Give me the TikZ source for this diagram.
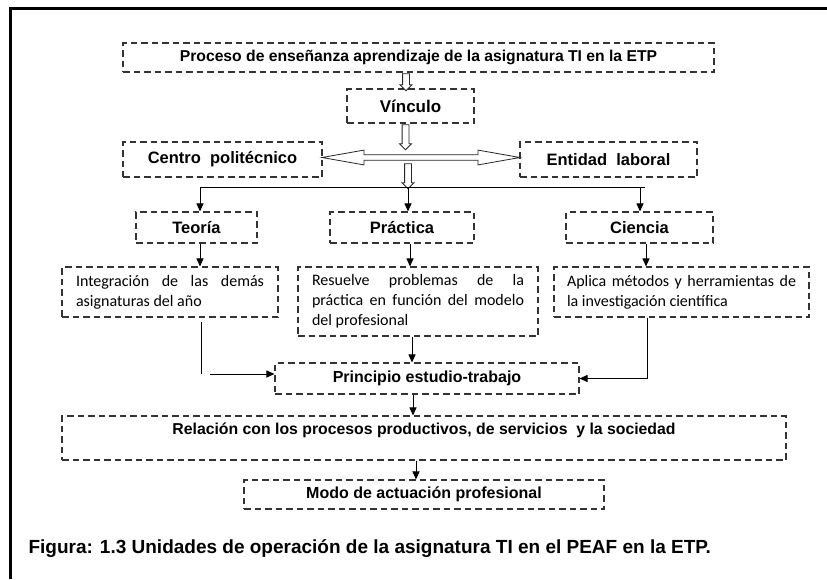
\documentclass[tikz,border=0pt]{standalone}
\usepackage{fontspec}
\setmainfont{Liberation Sans}
\newfontfamily\calibri{Carlito}
\usetikzlibrary{shapes.arrows,arrows.meta}

\begin{document}
\begin{tikzpicture}[x=1pt,y=-1pt,
caja/.style={draw=black!80, line width=1.1pt, dash pattern=on 6.5pt off 4pt,
  inner sep=0pt, font=\bfseries\fontsize{16}{19}\selectfont},
texto/.style={caja, font=\calibri\fontsize{16}{20}\selectfont, align=justify},
hueco/.style={single arrow, draw=black!85, fill=white, line width=0.8pt,
  inner sep=3pt, single arrow head extend=2.5pt, minimum height=#1, rotate=-90},
flecha/.style={-{Triangle[length=8pt,width=7pt]}, line width=1pt}
]
\useasboundingbox (0,0) rectangle (827,579);
% marco
\draw[line width=3pt] (10.5,579) -- (10.5,8) -- (827,8);

\node[caja, minimum width=591pt, minimum height=29pt, font=\bfseries\fontsize{15.7}{19}\selectfont] (proc) at (418.5,57.5)
  {Proceso de enseñanza aprendizaje de la asignatura TI en la ETP};
\node[caja, minimum width=127pt, minimum height=34pt, font=\bfseries\fontsize{17}{19}\selectfont] (vin) at (410.5,106) {Vínculo};
\node[caja, minimum width=199pt, minimum height=35pt, font=\bfseries\fontsize{16.5}{19}\selectfont] (cen) at (222.5,159.5) {Centro\ \ politécnico};
\node[caja, minimum width=177pt, minimum height=35pt, font=\bfseries\fontsize{16.5}{19}\selectfont] (ent) at (608.5,159.5) {Entidad\ \ laboral};

% flechas huecas
\node[hueco=17pt] (h1) at (406,80.5) {};
\node[hueco=25pt] (h2) at (405.5,135.5) {};
\node[double arrow, draw=black!85, fill=white, line width=0.8pt, inner sep=2.3pt,
  double arrow head extend=4.7pt, double arrow tip angle=20, minimum height=198pt]
  (h0) at (421,157.5) {};
\node[hueco=25pt] (h3) at (408,174.5) {};

\node[caja, minimum width=121pt, minimum height=31pt, font=\bfseries\fontsize{16.5}{19}\selectfont] (teo) at (196.5,227.5) {Teoría};
\node[caja, minimum width=144pt, minimum height=31pt, font=\bfseries\fontsize{16.5}{19}\selectfont] (pra) at (402,227.5) {Práctica};
\node[caja, minimum width=147pt, minimum height=31pt, font=\bfseries\fontsize{16.5}{19}\selectfont] (cia) at (639.5,227.5) {Ciencia};

\coordinate (r1) at (200,187);
\coordinate (r2) at (408,187);
\coordinate (r3) at (640,187);
\draw[line width=1pt] (r1) -- (645,187);
\draw[flecha] (r1) -- (r1 |- teo.north);
\draw[flecha] (r2) -- (r2 |- pra.north);
\draw[flecha] (r3) -- (r3 |- cia.north);

\node[texto, text width=188pt, inner xsep=14pt, minimum height=50pt] (teotxt) at (170,292)
  {Integración de las demás\linebreak asignaturas del año};
\node[texto, text width=212pt, inner xsep=14pt, minimum height=69pt] (pratxt) at (418,301.5)
  {Resuelve problemas de la\linebreak práctica en función del modelo\linebreak del profesional};
\node[texto, text width=229pt, inner xsep=13pt, minimum height=50pt] (ciatxt) at (681.5,292)
  {Aplica métodos y herramientas de\linebreak la investigación científica};

\draw[flecha] ([xshift=3.5pt]teo.south) -- ([xshift=30pt]teotxt.north);
\draw[flecha] ([xshift=8pt]pra.south) -- ([xshift=-8pt]pratxt.north);
\draw[flecha] ([xshift=6.5pt]cia.south) -- ([xshift=-35.5pt]ciatxt.north);

\node[caja, minimum width=304pt, minimum height=31pt] (pri) at (427,378.5) {Principio estudio-trabajo};
\node[caja, minimum width=724pt, text height=18pt, text depth=26pt, font=\bfseries\fontsize{15.8}{19}\selectfont] (rel) at (424,438)
  {Relación con los procesos productivos, de servicios\ \ y la sociedad};
\node[caja, minimum width=360pt, minimum height=29pt] (modo) at (424,494.5) {Modo de actuación profesional};

\coordinate (t1) at (201,322);
\coordinate (t2) at (201,374);
\draw[line width=1pt] (t1) -- (t2);
\draw[flecha] ([xshift=9pt]t2) -- (t2 -| pri.west);
\draw[flecha] ([xshift=-6pt]pratxt.south) -- ([xshift=-15pt]pri.north);
\draw[flecha] ([xshift=-34.5pt]ciatxt.south) |- (pri.east);
\draw[flecha] ([xshift=-14pt]pri.south) -- ([xshift=-11pt]rel.north);
\draw[flecha] ([xshift=-8pt]rel.south) -- ([xshift=-8pt]modo.north);

\node[anchor=base west, font=\bfseries\fontsize{19}{22}\selectfont] (pie) at (25,553)
  {Figura: 1.3 Unidades de operación de la asignatura TI en el PEAF en la ETP.};
\end{tikzpicture}
\end{document}
